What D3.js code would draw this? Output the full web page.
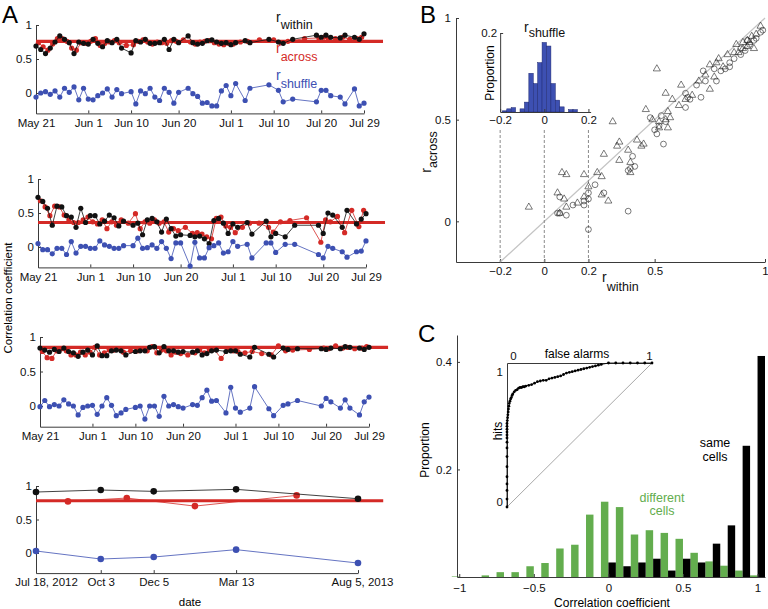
<!DOCTYPE html>
<html>
<head>
<meta charset="utf-8">
<script src="https://cdn.jsdelivr.net/npm/d3@7"></script>
<style>
  body { margin: 0; background: #fff; }
</style>
</head>
<body>
<div id="chart"></div>
<script>
// ---------- data ----------
// Panel A, rows 1-3: sessions as days after May 21
const aTickDays = [0, 11, 20, 30, 41, 50, 60, 69]
const aTickLabels = ['May 21', 'Jun 1', 'Jun 10', 'Jun 20', 'Jul 1', 'Jul 10', 'Jul 20', 'Jul 29']
const aRef = [0.76, 0.36, 0.85, 0.78]
const aRefEndDay = 73

const a1Days = [0,1,2,3,4,5,6,7,8,9,10,11,12,13,14,15,16,17,18,20,21,22,23,24,25,26,27,28,29,30,32,33,34,35,36,37,38,39,40,41,42,44,45,49,51,52,54,59,60,61,62,64,65,67,68,69]
const a1Within = [0.69,0.64,0.58,0.66,0.75,0.84,0.79,0.74,0.58,0.75,0.73,0.72,0.79,0.73,0.68,0.77,0.74,0.79,0.66,0.59,0.77,0.75,0.79,0.73,0.73,0.74,0.79,0.64,0.79,0.74,0.84,0.74,0.72,0.73,0.77,0.78,0.75,0.73,0.74,0.71,0.74,0.77,0.74,0.79,0.75,0.73,0.79,0.85,0.82,0.85,0.82,0.81,0.85,0.82,0.79,0.87]
const a1Shuffle = [-0.06,0,0.02,-0.02,0.03,-0.06,0.07,0.01,0.09,-0.10,0.07,-0.09,-0.10,-0.04,0,0.06,-0.06,0.05,-0.01,0.02,-0.16,0.03,-0.01,0.07,-0.06,-0.11,0.07,0.01,-0.15,0.01,0.07,-0.01,-0.05,-0.15,-0.14,-0.19,-0.19,0.03,0.11,-0.04,0.14,-0.11,0.07,0.12,0.04,-0.13,-0.09,-0.13,0.04,0.04,-0.04,-0.06,-0.16,0.06,-0.19,-0.15]
const a1AcrossDays = [0.5,1.5,2.5,3.5,4.5,5.5,6.5,7.5,8.5,9.5,10.5,11.5,12.5,13.5,14.5,15.5,16.5,17.5,19,20.5,21.5,22.5,23.5,24.5,25.5,26.5,27.5,28.5,29.5,31,32.5,33.5,34.5,35.5,36.5,37.5,38.5,39.5,40.5,41.5,43,44.5,47,50,51.5,53,56.5,59.5,60.5,61.5,63,64.5,66,67.5,68.5]
const a1Across = [0.74,0.68,0.63,0.72,0.80,0.80,0.76,0.66,0.63,0.74,0.73,0.76,0.80,0.70,0.73,0.75,0.77,0.74,0.70,0.71,0.76,0.78,0.75,0.72,0.75,0.74,0.73,0.77,0.76,0.78,0.75,0.72,0.75,0.76,0.77,0.74,0.72,0.71,0.73,0.72,0.75,0.76,0.78,0.78,0.74,0.76,0.80,0.81,0.82,0.80,0.80,0.82,0.79,0.80,0.82]

const a2Days = [0,1,2,3,4,5,6,7,8,9,10,11,12,13,14,15,16,17,18,20,21,22,23,24,25,26,27,28,29,30,32,33,34,35,36,37,38,39,40,41,42,44,45,48,49,50,52,54,59,60,61,62,64,65,67,68,69]
const a2Within = [0.73,0.67,0.57,0.32,0.60,0.59,0.46,0.44,0.29,0.57,0.36,0.46,0.46,0.34,0.38,0.47,0.43,0.31,0.38,0.32,0.35,0.18,0.40,0.42,0.37,0.22,0.41,0.27,0.16,0.18,0.17,0.15,0.16,0.12,0.05,0.39,0.42,0.35,0.20,0.34,0.29,0.36,0.19,0.38,0.15,0.20,0.15,0.32,0.32,0.20,0.50,0.47,0.29,0.54,0.34,0.41,0.49]
const a2Shuffle = [0.05,-0.04,-0.04,-0.10,-0.02,-0.02,-0.11,0.08,-0.09,0.01,0.01,-0.02,-0.02,0.09,0.03,0.01,-0.02,-0.02,0.02,0.02,0.13,-0.02,-0.01,0.03,-0.02,0.08,-0.02,-0.17,0.06,0.06,-0.28,0.07,-0.16,-0.16,-0.01,0.02,0.06,-0.09,-0.07,0.08,0.01,0.04,-0.16,0.06,0.06,-0.08,0.04,0.04,-0.11,-0.16,0.01,-0.02,-0.07,-0.15,-0.07,-0.06,0.09]
const a2AcrossDays = [0.5,1.5,2.5,3.5,4.5,5.5,6.5,7.5,8.5,9.5,10.5,11.5,12.5,13.5,14.5,15.5,16.5,17.5,19,20.5,21.5,22.5,23.5,24.5,25.5,26.5,27.5,28.5,29.5,31,32.5,33.5,34.5,35.5,36.5,37.5,38.5,39.5,40.5,41.5,43,44.5,46.5,48.5,49.5,51,53,56.5,59.5,60.5,61.5,63,64.5,66,67.5,68.5]
const a2Across = [0.68,0.59,0.46,0.60,0.59,0.47,0.40,0.36,0.36,0.40,0.44,0.37,0.34,0.40,0.27,0.37,0.32,0.40,0.35,0.49,0.27,0.37,0.35,0.40,0.35,0.37,0.22,0.27,0.24,0.29,0.20,0.21,0.19,0.15,0.12,0.42,0.44,0.31,0.29,0.21,0.29,0.35,0.35,0.29,0.22,0.37,0.39,0.43,0.07,0.40,0.37,0.45,0.21,0.54,0.30,0.54]

const a3Days = [0,1,2,3,4,5,6,7,8,9,10,11,12,13,14,15,16,17,18,20,21,22,23,24,25,26,27,28,29,30,32,33,34,35,36,37,39,40,41,42,44,45,48,49,51,52,54,59,60,61,63,64,65,67,68,69]
const a3Within = [0.84,0.81,0.78,0.82,0.79,0.84,0.79,0.77,0.72,0.78,0.81,0.74,0.87,0.73,0.73,0.80,0.81,0.80,0.74,0.79,0.80,0.80,0.85,0.86,0.77,0.86,0.80,0.80,0.78,0.79,0.78,0.80,0.74,0.76,0.80,0.81,0.79,0.80,0.80,0.75,0.71,0.85,0.75,0.71,0.84,0.82,0.83,0.83,0.82,0.84,0.83,0.86,0.85,0.84,0.82,0.85]
const a3Shuffle = [-0.01,0.08,-0.01,0.02,0,0.09,0.03,0,-0.13,-0.02,0,0.01,-0.12,0,0.12,0.01,-0.14,-0.10,-0.05,-0.02,0,-0.19,0,0,-0.15,0.14,0,0.02,-0.01,-0.03,0.02,0.01,0.12,0.23,0.07,0.08,-0.10,0.27,-0.03,-0.09,-0.03,0.28,-0.04,-0.14,0.01,0.03,0.08,0,0.11,0.06,-0.03,0.09,-0.03,-0.13,0.06,0.13]
const a3AcrossDays = [0.5,1.5,2.5,3.5,4.5,5.5,6.5,7.5,8.5,9.5,10.5,11.5,12.5,13.5,14.5,15.5,16.5,17.5,19,20.5,21.5,22.5,23.5,24.5,25.5,26.5,27.5,28.5,29.5,31,32.5,33.5,34.5,35.5,36.5,38,39.5,40.5,41.5,43,44.5,46.5,48.5,50,51.5,53,56.5,59.5,60.5,62,63.5,64.5,66,67.5,68.5]
const a3Across = [0.79,0.70,0.69,0.80,0.83,0.80,0.74,0.74,0.78,0.74,0.78,0.85,0.74,0.77,0.81,0.81,0.83,0.78,0.80,0.80,0.83,0.80,0.86,0.77,0.81,0.80,0.74,0.78,0.76,0.74,0.77,0.81,0.77,0.81,0.82,0.69,0.82,0.80,0.79,0.77,0.79,0.76,0.74,0.87,0.80,0.81,0.82,0.84,0.83,0.87,0.84,0.85,0.83,0.84,0.86]

// Panel A, row 4: long-term sessions
const a4Dates = ['2012-07-18', '2012-10-03', '2012-12-05', '2013-03-13', '2013-08-05']
const a4TickLabels = ['Jul 18, 2012', 'Oct 3', 'Dec 5', 'Mar 13', 'Aug 5, 2013']
const a4Within = [0.91, 0.94, 0.92, 0.95, 0.81]
const a4Shuffle = [0.03, -0.09, -0.06, 0.05, -0.15]
const a4AcrossDates = ['2012-08-25', '2012-11-03', '2013-01-23', '2013-05-24']
const a4Across = [0.77, 0.82, 0.70, 0.86]
const a4RefEnd = '2013-09-04'

// Panel B: r_within vs r_across
const bTriX = [0.73,0.75,0.78,0.79,0.81,0.83,0.86,0.87,0.88,0.90,0.92,0.95,0.94,0.96,0.98,0.77,0.70,0.75,0.62,0.55,0.58,0.61,0.56,0.57,0.52,0.56,0.55,0.51,0.46,0.31,0.34,0.33,0.38,0.42,0.44,0.45,0.34,0.39,0.39,0.27,0.24,0.26,0.18,0.20,0.08,0.10,0.06,0.09,0.10,0.07,-0.07,0.15,0.26,0.29,0.18,0.67,0.64,0.52,0.49,0.90,0.92,0.93]
const bTriY = [0.72,0.77,0.78,0.80,0.76,0.82,0.83,0.87,0.83,0.88,0.89,0.85,0.91,0.92,0.96,0.71,0.69,0.65,0.67,0.63,0.60,0.57,0.54,0.51,0.49,0.46,0.50,0.75,0.55,0.49,0.39,0.37,0.35,0.40,0.37,0.38,0.30,0.29,0.24,0.33,0.24,0.22,0.23,0.17,0.24,0.23,0.14,0.11,0.07,0.04,0.07,0.09,0.13,0.10,0.12,0.62,0.60,0.46,0.50,0.85,0.86,0.88]
const bCircX = [0.48,0.50,0.51,0.52,0.54,0.40,0.38,0.38,0.20,0.23,0.20,0.27,0.20,0.18,0.18,0.13,0.07,0.07,0.10,0.71,0.66,0.64,0.64,0.65,0.69,0.73,0.78,0.80,0.82,0.84,0.86,0.89,0.91,0.93,0.95,0.96,0.98,0.99,0.89,0.92,0.84,0.77,0.72,0.55,0.53,0.06,0.39,0.41]
const bCircY = [0.51,0.45,0.43,0.47,0.38,0.32,0.25,0.05,-0.04,0.18,0.14,0.14,0.11,0.10,0.08,0.08,0.12,0.04,0.03,0.61,0.60,0.56,0.63,0.61,0.67,0.69,0.69,0.74,0.75,0.78,0.80,0.82,0.84,0.87,0.89,0.90,0.93,0.94,0.85,0.89,0.76,0.75,0.74,0.49,0.52,0.04,0.26,0.27]
const bDiag = [-0.2, 1]
const bDashX = [-0.2, 0, 0.2]
// inset: r_shuffle histogram
const shufCenters = [-0.18,-0.16,-0.14,-0.12,-0.10,-0.08,-0.06,-0.04,-0.02,0,0.02,0.04,0.06,0.08,0.10,0.12,0.14,0.16,0.18]
const shufProp = [0.003,0.008,0.011,0,0.008,0.025,0.098,0.072,0.125,0.176,0.167,0.072,0.030,0.013,0,0.006,0.006,0,0]

// Panel C: histograms of correlation coefficient
const cCenters = [-1,-0.9,-0.8,-0.7,-0.6,-0.5,-0.4,-0.3,-0.2,-0.1,0,0.1,0.2,0.3,0.4,0.5,0.6,0.7,0.8,0.9,1]
const cDifferent = [0.001,0,0.003,0.009,0.009,0.020,0.026,0.053,0.060,0.116,0.140,0.130,0.079,0.087,0.082,0.071,0.045,0.029,0.021,0.012,0.003]
const cSame = [0,0,0,0,0,0,0,0,0,0,0.027,0.020,0.027,0.034,0.012,0.034,0.027,0.062,0.096,0.244,0.411]
// inset: ROC
const rocFA = [0,0,0,0,0,0,0,0,0,0,0,0,0,0,0,0.002,0.004,0.006,0.008,0.010,0.013,0.016,0.020,0.025,0.030,0.035,0.040,0.050,0.060,0.070,0.080,0.090,0.100,0.110,0.120,0.130,0.150,0.170,0.190,0.210,0.230,0.250,0.270,0.290,0.310,0.330,0.350,0.370,0.390,0.410,0.430,0.450,0.470,0.490,0.510,0.530,0.550,0.570,0.590,0.610,0.630,0.650,0.700,0.750,0.800,0.850,0.900,0.950,1.000]
const rocHit = [0,0.055,0.115,0.160,0.210,0.280,0.350,0.410,0.450,0.480,0.500,0.520,0.540,0.560,0.580,0.600,0.620,0.640,0.660,0.680,0.700,0.720,0.735,0.750,0.760,0.775,0.785,0.800,0.810,0.815,0.825,0.830,0.830,0.835,0.835,0.840,0.845,0.850,0.860,0.870,0.875,0.880,0.880,0.890,0.895,0.900,0.905,0.910,0.920,0.930,0.935,0.940,0.945,0.950,0.955,0.960,0.965,0.970,0.975,0.980,0.985,0.990,1,1,1,1,1,1,1]

// ---------- styling ----------
const FONT = '"Liberation Sans", Arial, Helvetica, sans-serif'
const RED = '#d42a26'
const BLUE = '#3d50b2'
const GREEN = '#63ad4e'
const AXIS = '#3a3a3a'

var svg = d3.select('#chart')
  .append('svg')
  .attr('width', 768)
  .attr('height', 609)
  .style('font-family', FONT)

function styleAxis(g, fs) {
  g.attr('font-family', FONT).attr('font-size', fs)
  g.select('.domain').attr('stroke', AXIS)
  g.selectAll('.tick line').attr('stroke', AXIS)
  g.selectAll('.tick text').attr('fill', '#111')
}

function series(g, xs, ys, x, y, color, r) {
  const pts = xs.map((d, i) => [x(d), y(ys[i])])
  g.append('path')
    .attr('d', d3.line()(pts))
    .attr('fill', 'none')
    .attr('stroke', color)
    .attr('stroke-width', 0.8)
  g.append('g').selectAll('circle')
    .data(pts)
    .join('circle')
    .attr('cx', d => d[0])
    .attr('cy', d => d[1])
    .attr('r', r)
    .attr('fill', color)
}

// subscript label like r_within
function subText(parent, x, y, main, sub, color, fs, subFs, shift, anchor) {
  const t = parent.append('text')
    .attr('x', x).attr('y', y)
    .attr('fill', color)
    .attr('text-anchor', anchor || 'start')
  t.append('tspan').attr('font-size', fs).text(main)
  t.append('tspan').attr('font-size', subFs).attr('dy', shift).text(sub)
  return t
}

// panel letters
;[['A', 2, 23], ['B', 420, 23], ['C', 418, 342]].forEach(d => {
  svg.append('text').attr('x', d[1]).attr('y', d[2]).attr('font-size', 24).text(d[0])
})

// ---------- Panel A ----------
const aBoxes = [
  { x0: 36, x1: 364, yTop: 25, yZero: 93 },
  { x0: 38, x1: 366, yTop: 179, yZero: 247 },
  { x0: 40, x1: 369, yTop: 337, yZero: 406 },
  { x0: 36, x1: 358, yTop: 486, yZero: 553 }
]

function aYScale(box) {
  const unit = box.yZero - box.yTop
  return d3.scaleLinear().domain([-0.3, 1]).range([box.yZero + 0.3 * unit, box.yTop])
}

const aSets = [
  { days: a1Days, within: a1Within, shuffle: a1Shuffle, acrossDays: a1AcrossDays, across: a1Across },
  { days: a2Days, within: a2Within, shuffle: a2Shuffle, acrossDays: a2AcrossDays, across: a2Across },
  { days: a3Days, within: a3Within, shuffle: a3Shuffle, acrossDays: a3AcrossDays, across: a3Across }
]

aSets.forEach((s, i) => {
  const box = aBoxes[i]
  const x = d3.scaleLinear().domain([0, 69]).range([box.x0, box.x1])
  const y = aYScale(box)
  const g = svg.append('g')

  const xa = g.append('g')
    .attr('transform', `translate(0,${y(-0.3)})`)
    .call(d3.axisBottom(x).tickValues(aTickDays).tickFormat((d, j) => aTickLabels[j])
      .tickSizeInner(-3).tickSizeOuter(0).tickPadding(5))
  styleAxis(xa, 11.5)
  const ya = g.append('g')
    .attr('transform', `translate(${box.x0},0)`)
    .call(d3.axisLeft(y).tickValues([0, 0.5, 1]).tickFormat(d3.format('~g'))
      .tickSizeInner(-3).tickSizeOuter(0).tickPadding(4))
  styleAxis(ya, 11.5)

  g.append('line')
    .attr('x1', x(0)).attr('x2', x(aRefEndDay))
    .attr('y1', y(aRef[i])).attr('y2', y(aRef[i]))
    .attr('stroke', RED).attr('stroke-width', 3.2)

  series(g, s.acrossDays, s.across, x, y, RED, 2.6)
  series(g, s.days, s.within, x, y, '#111', 2.6)
  series(g, s.days, s.shuffle, x, y, BLUE, 2.6)
})

// row 4, time axis
{
  const parse = d3.timeParse('%Y-%m-%d')
  const box = aBoxes[3]
  const dates = a4Dates.map(parse)
  const x = d3.scaleTime().domain([dates[0], dates[dates.length - 1]]).range([box.x0, box.x1])
  const y = aYScale(box)
  const g = svg.append('g')

  const xa = g.append('g')
    .attr('transform', `translate(0,${y(-0.3)})`)
    .call(d3.axisBottom(x).tickValues(dates).tickFormat((d, j) => a4TickLabels[j])
      .tickSizeInner(-3).tickSizeOuter(0).tickPadding(5))
  styleAxis(xa, 11.5)
  xa.selectAll('.tick text').attr('dx', (d, j) => j === 0 ? 10 : (j === dates.length - 1 ? 4 : 0))
  const ya = g.append('g')
    .attr('transform', `translate(${box.x0},0)`)
    .call(d3.axisLeft(y).tickValues([0, 0.5, 1]).tickFormat(d3.format('~g'))
      .tickSizeInner(-3).tickSizeOuter(0).tickPadding(4))
  styleAxis(ya, 11.5)

  g.append('line')
    .attr('x1', x(dates[0])).attr('x2', x(parse(a4RefEnd)))
    .attr('y1', y(aRef[3])).attr('y2', y(aRef[3]))
    .attr('stroke', RED).attr('stroke-width', 3.2)

  series(g, a4AcrossDates.map(parse), a4Across, x, y, RED, 3.3)
  series(g, dates, a4Within, x, y, '#111', 3.3)
  series(g, dates, a4Shuffle, x, y, BLUE, 3.3)

  g.append('text').attr('x', 190).attr('y', 606).attr('text-anchor', 'middle')
    .attr('font-size', 11.5).text('date')
}

// labels in row 1
subText(svg, 276, 22, 'r', 'within', '#111', 14, 12.5, 7)
subText(svg, 276, 53, 'r', 'across', RED, 14, 12.5, 8)
subText(svg, 276, 80, 'r', 'shuffle', BLUE, 14, 12.5, 8)

svg.append('text')
  .attr('transform', 'translate(12,298) rotate(-90)')
  .attr('text-anchor', 'middle')
  .attr('font-size', 11.5)
  .text('Correlation coefficient')

// ---------- Panel B ----------
{
  const x = d3.scaleLinear().domain([-0.4, 1]).range([456, 765])
  const y = d3.scaleLinear().domain([-0.2, 1]).range([262, 18])
  const g = svg.append('g')

  const xa = g.append('g').attr('transform', `translate(0,${y(-0.2)})`)
    .call(d3.axisBottom(x).tickValues([-0.2, 0, 0.2, 0.5, 1]).tickFormat(d3.format('~g'))
      .tickSizeInner(-3).tickSizeOuter(0).tickPadding(5))
  styleAxis(xa, 11.5)
  const ya = g.append('g').attr('transform', `translate(${x(-0.4)},0)`)
    .call(d3.axisLeft(y).tickValues([0, 0.5, 1]).tickFormat(d3.format('~g'))
      .tickSizeInner(-3).tickSizeOuter(0).tickPadding(5))
  styleAxis(ya, 11.5)

  // identity line
  g.append('line')
    .attr('x1', x(bDiag[0])).attr('y1', y(bDiag[0]))
    .attr('x2', x(bDiag[1])).attr('y2', y(bDiag[1]))
    .attr('stroke', '#c4c4c4').attr('stroke-width', 1.3)

  // inset histogram
  const iy = d3.scaleLinear().domain([0, 0.2]).range([112, 33])
  const binW = 0.02
  g.append('g').selectAll('rect')
    .data(shufCenters)
    .join('rect')
    .attr('x', d => x(d - binW / 2))
    .attr('width', d => x(d + binW / 2) - x(d - binW / 2))
    .attr('y', (d, i) => iy(shufProp[i]))
    .attr('height', (d, i) => iy(0) - iy(shufProp[i]))
    .attr('fill', BLUE)
    .attr('stroke', '#1c2670')
    .attr('stroke-width', 0.5)

  const ixa = g.append('g').attr('transform', `translate(0,${iy(0)})`)
    .call(d3.axisBottom(d3.scaleLinear().domain([-0.2, 0.21]).range([x(-0.2), x(0.21)]))
      .tickValues([-0.2, 0, 0.2]).tickFormat(d3.format('~g'))
      .tickSizeInner(-3).tickSizeOuter(0).tickPadding(4))
  styleAxis(ixa, 11.5)
  const iya = g.append('g').attr('transform', `translate(${x(-0.2)},0)`)
    .call(d3.axisLeft(iy).tickValues([0.2]).tickFormat(d3.format('~g'))
      .tickSizeInner(-3).tickSizeOuter(0).tickPadding(3))
  styleAxis(iya, 11.5)

  // dashed guides from inset to main axis
  g.append('g').selectAll('line')
    .data(bDashX)
    .join('line')
    .attr('x1', d => x(d)).attr('x2', d => x(d))
    .attr('y1', iy(0) + 18).attr('y2', y(-0.2))
    .attr('stroke', '#8a8a8a')
    .attr('stroke-width', 1)
    .attr('stroke-dasharray', '3,2')

  // scatter
  const tri = d3.symbol().type(d3.symbolTriangle).size(22)
  g.append('g').selectAll('path')
    .data(bTriX)
    .join('path')
    .attr('d', tri)
    .attr('transform', (d, i) => `translate(${x(d)},${y(bTriY[i])})`)
    .attr('fill', 'none')
    .attr('stroke', '#222')
    .attr('stroke-width', 0.6)
  g.append('g').selectAll('circle')
    .data(bCircX)
    .join('circle')
    .attr('cx', d => x(d))
    .attr('cy', (d, i) => y(bCircY[i]))
    .attr('r', 2.9)
    .attr('fill', 'none')
    .attr('stroke', '#222')
    .attr('stroke-width', 0.6)

  subText(g, 602, 282, 'r', 'within', '#111', 14, 12.5, 9)
  subText(g, 524, 32, 'r', 'shuffle', '#111', 14, 12.5, 5)
  subText(g, 0, 0, 'r', 'across', '#111', 14, 12.5, 6, 'middle')
    .attr('transform', 'translate(431,152) rotate(-90)')
  g.append('text')
    .attr('transform', 'translate(494,73) rotate(-90)')
    .attr('text-anchor', 'middle')
    .attr('font-size', 12)
    .text('Proportion')
}

// ---------- Panel C ----------
{
  const x = d3.scaleLinear().domain([-1.015, 1.05]).range([457, 765])
  const y = d3.scaleLinear().domain([0, 0.45]).range([577, 335])
  const g = svg.append('g')
  const half = 0.05

  g.append('g').selectAll('rect')
    .data(cCenters)
    .join('rect')
    .attr('x', d => x(d - half))
    .attr('width', d => x(d) - x(d - half))
    .attr('y', (d, i) => y(cDifferent[i]))
    .attr('height', (d, i) => y(0) - y(cDifferent[i]))
    .attr('fill', GREEN)
  g.append('g').selectAll('rect')
    .data(cCenters)
    .join('rect')
    .attr('x', d => x(d))
    .attr('width', d => x(d + half) - x(d))
    .attr('y', (d, i) => y(cSame[i]))
    .attr('height', (d, i) => y(0) - y(cSame[i]))
    .attr('fill', '#000')

  const labs = { '-1': '\u22121', '-0.5': '\u22120.5', '0': '0', '0.5': '0.5', '1': '1' }
  const xa = g.append('g').attr('transform', `translate(0,${y(0)})`)
    .call(d3.axisBottom(x).tickValues([-1, -0.5, 0, 0.5, 1]).tickFormat(d => labs[String(d)])
      .tickSizeInner(-3).tickSizeOuter(0).tickPadding(7))
  styleAxis(xa, 11.5)
  const ya = g.append('g').attr('transform', `translate(${x.range()[0]},0)`)
    .call(d3.axisLeft(y).tickValues([0.2, 0.4]).tickFormat(d3.format('~g'))
      .tickSizeInner(-3).tickSizeOuter(0).tickPadding(5))
  styleAxis(ya, 11.5)

  g.append('text')
    .attr('transform', 'translate(429,450) rotate(-90)')
    .attr('text-anchor', 'middle').attr('font-size', 12)
    .text('Proportion')
  g.append('text').attr('x', 612).attr('y', 607).attr('text-anchor', 'middle')
    .attr('font-size', 12).text('Correlation coefficient')

  g.append('text').attr('x', 715).attr('y', 447).attr('text-anchor', 'middle')
    .attr('font-size', 12.5).text('same')
  g.append('text').attr('x', 715).attr('y', 461).attr('text-anchor', 'middle')
    .attr('font-size', 12.5).text('cells')
  g.append('text').attr('x', 662).attr('y', 502).attr('text-anchor', 'middle')
    .attr('font-size', 12.5).attr('fill', GREEN).text('different')
  g.append('text').attr('x', 662).attr('y', 515).attr('text-anchor', 'middle')
    .attr('font-size', 12.5).attr('fill', GREEN).text('cells')

  // ROC inset
  const rx = d3.scaleLinear().domain([0, 1]).range([507, 652])
  const ry = d3.scaleLinear().domain([0, 1]).range([507, 363])
  g.append('line')
    .attr('x1', rx(0)).attr('y1', ry(0)).attr('x2', rx(1)).attr('y2', ry(1))
    .attr('stroke', '#a8a8a8').attr('stroke-width', 1)
  const rxa = g.append('g').attr('transform', `translate(0,${ry(1)})`)
    .call(d3.axisTop(rx).tickValues([0, 1]).tickFormat(d3.format('~g'))
      .tickSizeInner(0).tickSizeOuter(0).tickPadding(3))
  styleAxis(rxa, 11.5)
  rxa.selectAll('.tick text').attr('dx', d => d === 0 ? 6 : -3)
  const rya = g.append('g').attr('transform', `translate(${rx(0)},0)`)
    .call(d3.axisLeft(ry).tickValues([0, 1]).tickFormat(d3.format('~g'))
      .tickSizeInner(0).tickSizeOuter(0).tickPadding(4))
  styleAxis(rya, 11.5)
  rya.selectAll('.tick text').attr('dy', d => d === 0 ? '-0.1em' : '1.1em')

  g.append('text').attr('x', 577).attr('y', 358).attr('text-anchor', 'middle')
    .attr('font-size', 12).text('false alarms')
  g.append('text')
    .attr('transform', 'translate(502,431) rotate(-90)')
    .attr('text-anchor', 'middle').attr('font-size', 12)
    .text('hits')

  series(g, rocFA, rocHit, rx, ry, '#000', 1.4)
}
</script>
</body>
</html>
